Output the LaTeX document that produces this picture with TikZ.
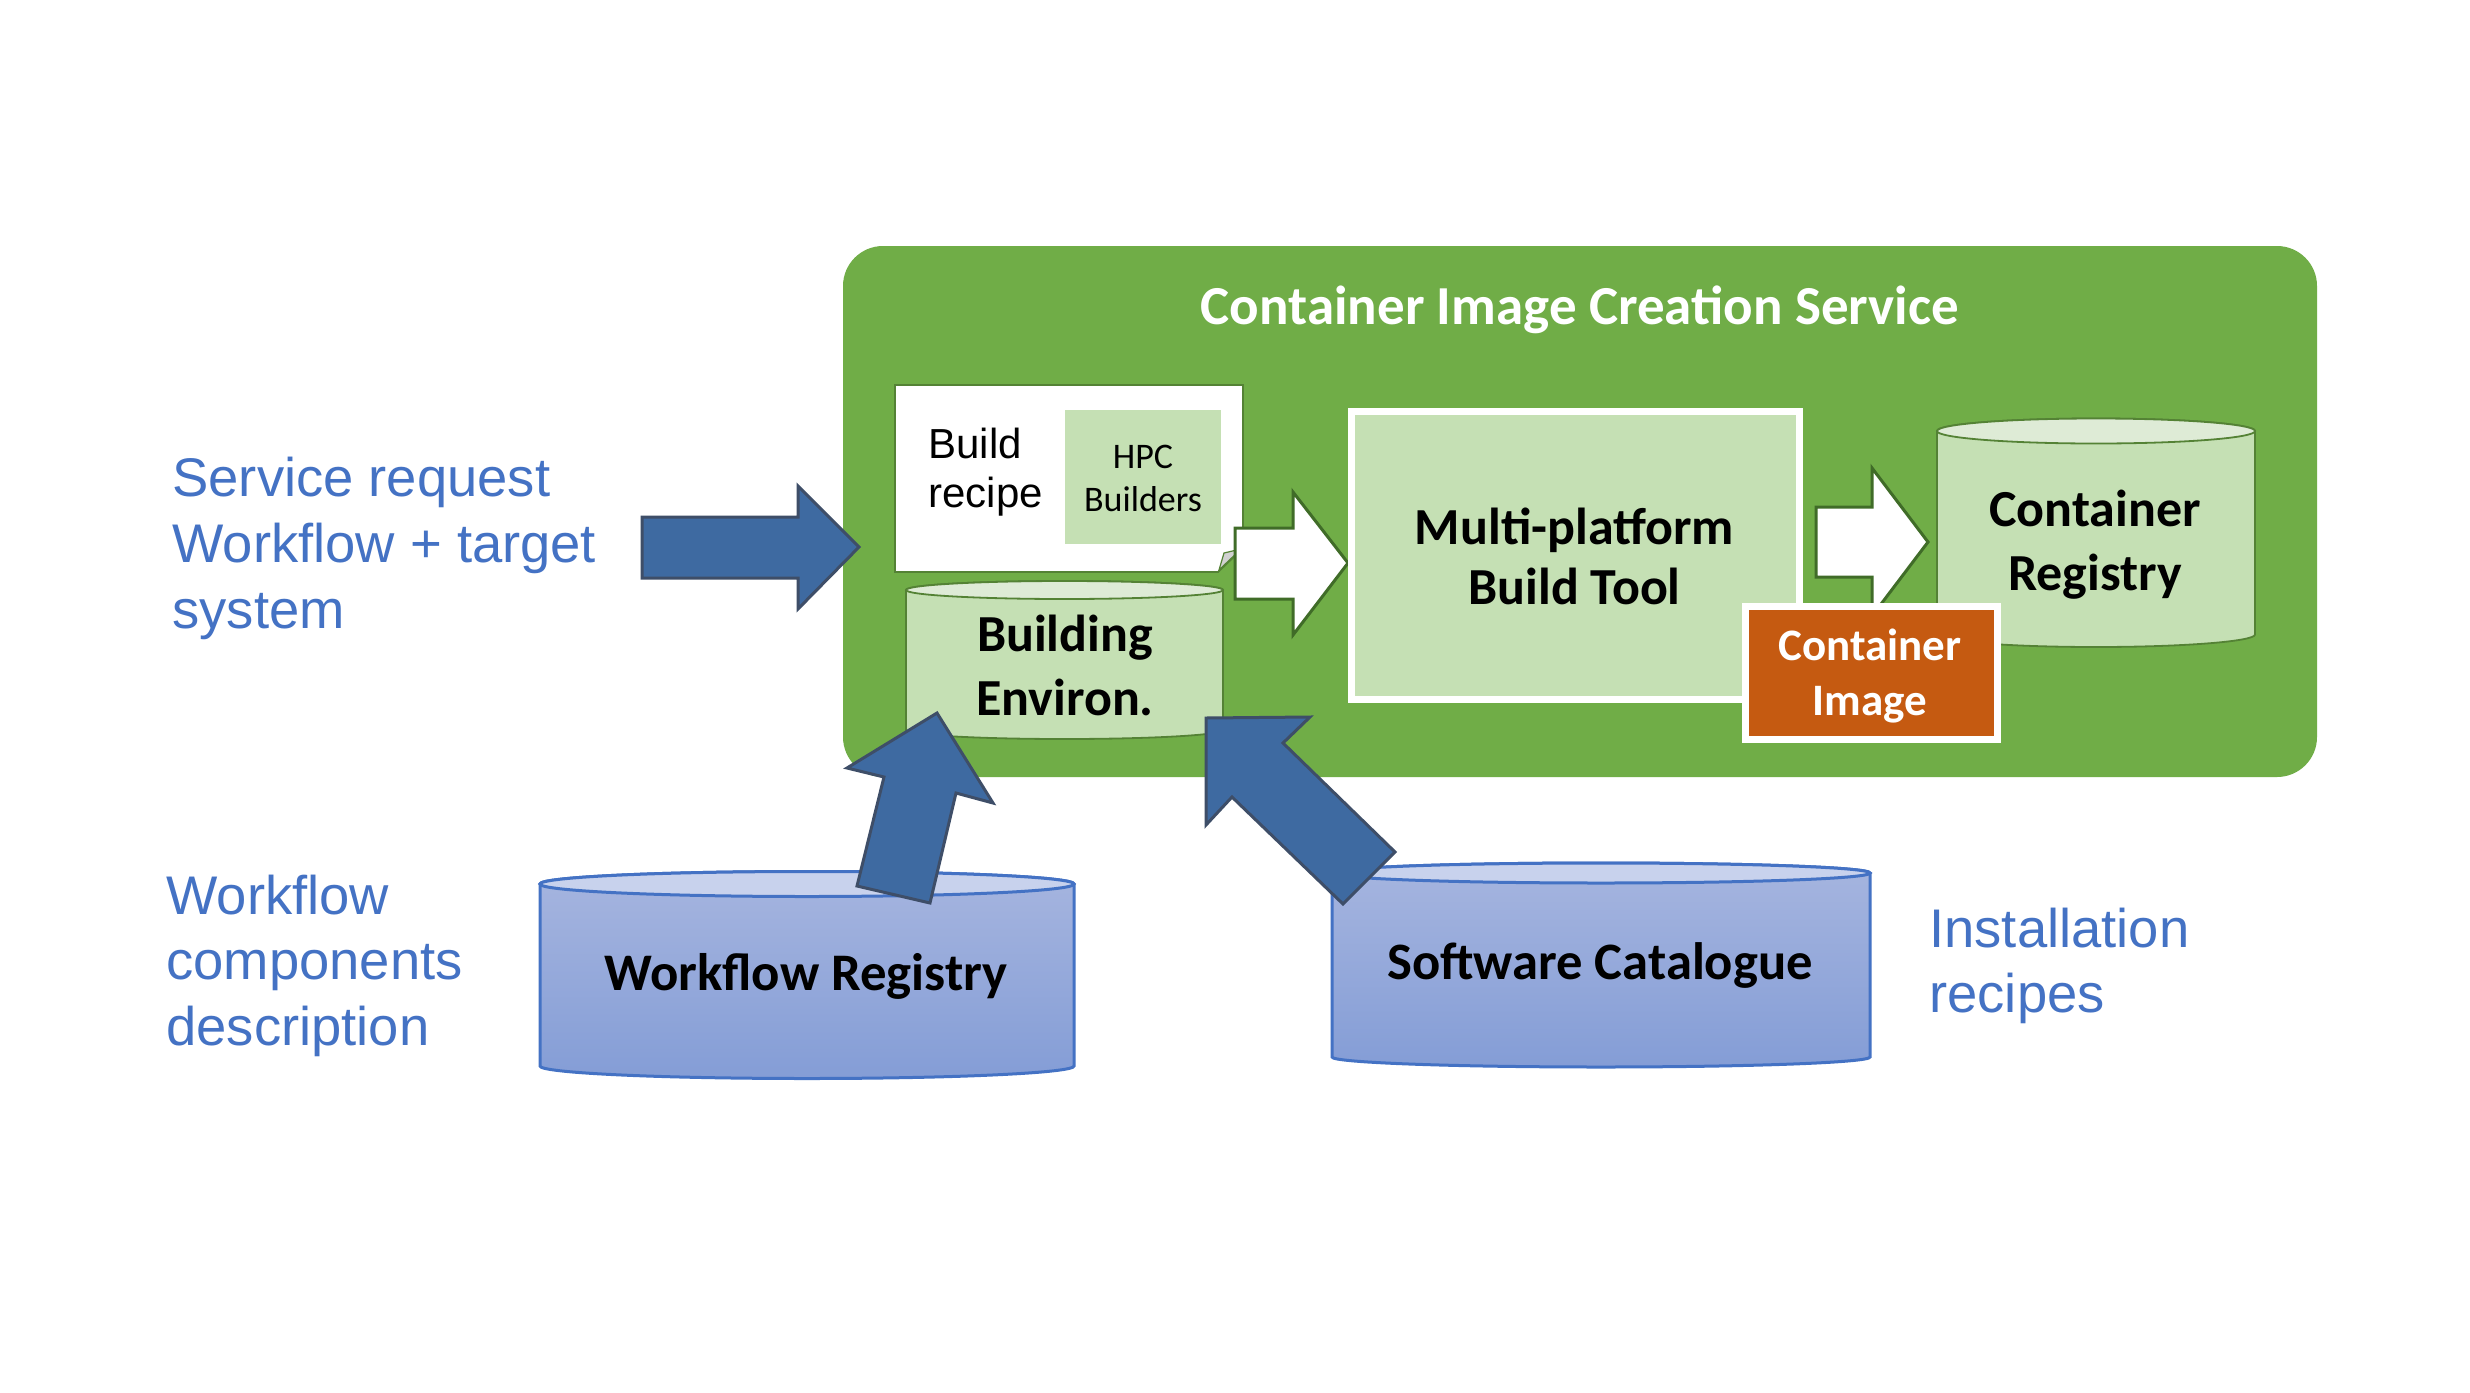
\documentclass[tikz,border=0pt]{standalone}
\usepackage{fontspec}
\setmainfont{Carlito}
\newfontfamily\arialf{Liberation Sans}
\definecolor{bggreen}{HTML}{70AD47}
\definecolor{lightgreen}{HTML}{C5E0B4}
\definecolor{topgreen}{HTML}{DEEBD6}
\definecolor{linegreen}{RGB}{84,130,53}
\definecolor{arrowgreen}{RGB}{64,108,40}
\definecolor{orangebox}{HTML}{C55A11}
\definecolor{bluetxt}{HTML}{4472C4}
\definecolor{arrowblue}{RGB}{62,106,161}
\definecolor{arrowedge}{RGB}{62,78,104}
\definecolor{cyltopc}{RGB}{166,181,223}
\definecolor{cylbotc}{RGB}{132,157,214}
\definecolor{cyllid}{RGB}{200,210,237}
\definecolor{cylblue}{HTML}{4472C4}
\begin{document}
\begin{tikzpicture}[x=0.5pt,y=-0.5pt,
  boldlbl/.style={font=\fontsize{26}{30}\selectfont\bfseries, text=black, anchor=base, inner sep=0pt},
  bluelbl/.style={font=\arialf\fontsize{27.2}{32}\selectfont, text=bluetxt, anchor=base west, inner sep=0pt},
  whitearrow/.style={fill=white, draw=arrowgreen, line width=1.5pt, line join=miter},
  bluearrow/.style={fill=arrowblue, draw=arrowedge, line width=1.5pt, line join=miter},
  greencyl/.style={fill=lightgreen, draw=linegreen, line width=0.9pt},
  greenlid/.style={fill=topgreen, draw=linegreen, line width=0.9pt},
  bluecyl/.style={top color=cyltopc, bottom color=cylbotc, draw=cylblue, line width=1.5pt},
  bluelid/.style={fill=cyllid, draw=cylblue, line width=1.5pt}
]
\useasboundingbox (0,0) rectangle (2470,1393);
\fill[white] (0,0) rectangle (2470,1393);

% service area
\fill[bggreen, rounded corners=20pt] (843,246) rectangle (2317,777);
\node[font=\fontsize{27.5}{32}\selectfont\bfseries, text=white, anchor=base, inner sep=0pt] (title) at (1580,324) {Container Image Creation Service};

% build recipe note
\filldraw[fill=white, draw=linegreen, line width=0.9pt] (895,385) -- (1243,385) -- (1243,548) -- (1218,572) -- (895,572) -- cycle;
\filldraw[fill=black!18, draw=linegreen, line width=0.6pt] (1219,570) -- (1224,553) -- (1241,549) -- cycle;
\fill[lightgreen] (1065,410) rectangle (1221,544);
\node[font=\arialf\fontsize{21}{24}\selectfont, anchor=base west, inner sep=0pt] (br1) at (928,458) {Build};
\node[font=\arialf\fontsize{21}{24}\selectfont, anchor=base west, inner sep=0pt] (br2) at (928,507) {recipe};
\node[font=\fontsize{18}{21}\selectfont, anchor=base, inner sep=0pt] (hpc1) at (1143,468) {HPC};
\node[font=\fontsize{18}{21}\selectfont, anchor=base, inner sep=0pt] (hpc2) at (1143,511) {Builders};

% building environment cylinder
\path[greencyl] (906,590) -- (906,730) arc[start angle=180,end angle=360,x radius=79.25pt,y radius=4.5pt] -- (1223,590) arc[start angle=0,end angle=180,x radius=79.25pt,y radius=4.5pt] -- cycle;
\path[greenlid] (1064.5,590) ellipse[x radius=79.25pt, y radius=4.5pt];
\node[boldlbl] (be1) at (1065,651) {Building};
\node[boldlbl] (be2) at (1065,715) {Environ.};

% arrow recipe -> build tool
\path[whitearrow] (1235,528) -- (1293,528) -- (1293,492) -- (1348,563) -- (1293,635) -- (1293,599) -- (1235,599) -- cycle;

% multi-platform build tool
\filldraw[fill=lightgreen, draw=white, line width=3.5pt] (1351.5,411.5) rectangle (1799.5,699.5);
\node[boldlbl] (mp1) at (1574.5,544) {Multi-platform};
\node[boldlbl] (mp2) at (1574.5,604) {Build Tool};

% arrow build tool -> registry
\path[whitearrow] (1816,507) -- (1872,507) -- (1872,468) -- (1928,542) -- (1872,616) -- (1872,577) -- (1816,577) -- cycle;

% container registry cylinder
\path[greencyl] (1937,431) -- (1937,634.5) arc[start angle=180,end angle=360,x radius=79.5pt,y radius=6.25pt] -- (2255,431) arc[start angle=0,end angle=180,x radius=79.5pt,y radius=6.25pt] -- cycle;
\path[greenlid] (2096,431) ellipse[x radius=79.5pt, y radius=6.25pt];
\node[boldlbl] (cr1) at (2095,526) {Container};
\node[boldlbl] (cr2) at (2095,590) {Registry};

% container image
\filldraw[fill=orangebox, draw=white, line width=3.5pt] (1745.5,606.5) rectangle (1997.5,739.5);
\node[font=\fontsize{22.5}{26}\selectfont\bfseries, text=white, anchor=base, inner sep=0pt] (ci1) at (1870,660) {Container};
\node[font=\fontsize{22.5}{26}\selectfont\bfseries, text=white, anchor=base, inner sep=0pt] (ci2) at (1870,715) {Image};

% workflow registry cylinder
\path[bluecyl] (540,884) -- (540,1066) arc[start angle=180,end angle=360,x radius=133.5pt,y radius=6.25pt] -- (1074,884) arc[start angle=0,end angle=180,x radius=133.5pt,y radius=6.25pt] -- cycle;
\path[bluelid] (807,884) ellipse[x radius=133.5pt, y radius=6.25pt];
\node[boldlbl, font=\fontsize{26.4}{30}\selectfont\bfseries] (wr) at (806,990) {Workflow Registry};

% software catalogue cylinder
\path[bluecyl] (1332,873) -- (1332,1057) arc[start angle=180,end angle=360,x radius=134.5pt,y radius=5pt] -- (1870,873) arc[start angle=0,end angle=180,x radius=134.5pt,y radius=5pt] -- cycle;
\path[bluelid] (1601,873) ellipse[x radius=134.5pt, y radius=5pt];
\node[boldlbl, font=\fontsize{26.3}{30}\selectfont\bfseries] (sc) at (1600,979) {Software Catalogue};

% blue block arrows
\path[bluearrow] (642,517) -- (798,517) -- (798,486) -- (859,547) -- (798,609) -- (798,578) -- (642,578) -- cycle;
\path[bluearrow] (937,713) -- (993,803) -- (956,793) -- (930,903) -- (857,886) -- (884,777) -- (847,768) -- cycle;
\path[bluearrow] (1206,718) -- (1310,717) -- (1283,743) -- (1395,852) -- (1343,904) -- (1232,797) -- (1206,825) -- cycle;

% blue labels
\node[bluelbl] (sr1) at (172,496) {Service request};
\node[bluelbl] (sr2) at (172,562) {Workflow + target};
\node[bluelbl] (sr3) at (172,628) {system};
\node[bluelbl] (wc1) at (166,914) {Workflow};
\node[bluelbl] (wc2) at (166,979) {components};
\node[bluelbl] (wc3) at (166,1045) {description};
\node[bluelbl] (ir1) at (1929,947) {Installation};
\node[bluelbl] (ir2) at (1929,1012) {recipes};
\end{tikzpicture}
\end{document}
